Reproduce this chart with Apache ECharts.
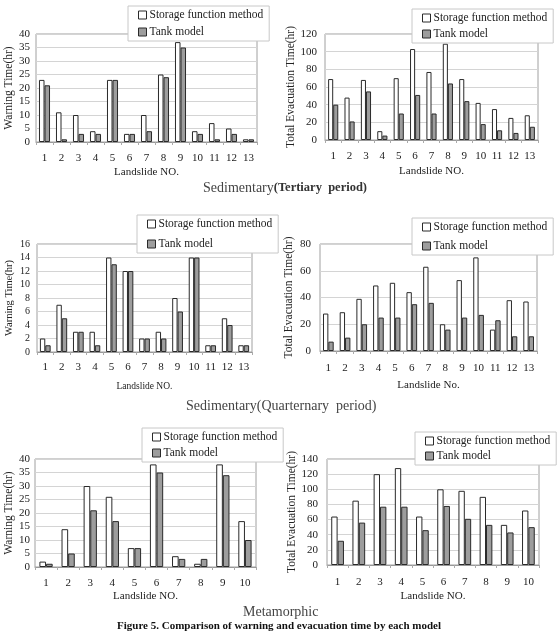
<!DOCTYPE html>
<html>
<head>
<meta charset="utf-8">
<script src="https://cdn.jsdelivr.net/npm/echarts@6/dist/echarts.min.js"></script>
<style>html,body{margin:0;padding:0;background:#fff;}#c{width:558px;height:635px;}</style>
</head>
<body>
<div id="c"></div>
<script>
const cats13 = ['1','2','3','4','5','6','7','8','9','10','11','12','13'];
const cats10 = ['1','2','3','4','5','6','7','8','9','10'];
const seriesNames = ['Storage function method', 'Tank model'];

const tertWarnStorage = [23, 11, 10, 4, 23, 3, 10, 25, 37, 4, 7, 5, 1];
const tertWarnTank    = [21, 1, 3, 3, 23, 3, 4, 24, 35, 3, 1, 3, 1];
const tertEvacStorage = [69, 48, 68, 10, 70, 103, 77, 109, 69, 42, 35, 25, 28];
const tertEvacTank    = [40, 21, 55, 5, 30, 51, 30, 64, 44, 18, 11, 8, 15];
const quatWarnStorage = [2, 7, 3, 3, 14, 12, 2, 3, 8, 14, 1, 5, 1];
const quatWarnTank    = [1, 5, 3, 1, 13, 12, 2, 2, 6, 14, 1, 4, 1];
const quatEvacStorage = [28, 29, 39, 49, 51, 44, 63, 20, 53, 70, 16, 38, 37];
const quatEvacTank    = [7, 10, 20, 25, 25, 35, 36, 16, 25, 27, 23, 11, 11];
const metaWarnStorage = [2, 14, 30, 26, 7, 38, 4, 1.2, 38, 17];
const metaWarnTank    = [1.2, 5, 21, 17, 7, 35, 3, 3, 34, 10];
const metaEvacStorage = [64, 85, 120, 128, 64, 100, 98, 90, 53, 72];
const metaEvacTank    = [32, 56, 77, 77, 46, 78, 61, 53, 43, 50];

const yTitles = ['Warning Time(hr)', 'Total Evacuation Time(hr)'];
const xTitles = ['Landslide NO.', 'Landslide No.'];
const captions = ['Sedimentary', '(Tertiary  period)', '(Quarternary  period)', 'Metamorphic',
  'Figure 5. Comparison of warning and evacuation time by each model'];

const SERIF = '"Liberation Serif","DejaVu Serif",serif';

const panels = [
  {cats: cats13, s: tertWarnStorage, t: tertWarnTank, max: 40, interval: 5, yt: yTitles[0], xt: xTitles[0],
   grid: {left: 36, top: 34, width: 221, height: 108}, yGap: 21, yMargin: 6, xMargin: 11, xGap: 25, catGap: '35%',
   legend: {left: 128, top: 6, gap: 5}, yFont: 11, xtFont: 11},
  {cats: cats13, s: tertEvacStorage, t: tertEvacTank, max: 120, interval: 20, yt: yTitles[1], xt: xTitles[0],
   grid: {left: 325, top: 34, width: 213, height: 106}, yGap: 27, yMargin: 8, xMargin: 11, xGap: 26, catGap: '38%',
   legend: {left: 412, top: 9, gap: 4}, yFont: 11, xtFont: 11},
  {cats: cats13, s: quatWarnStorage, t: quatWarnTank, max: 16, interval: 2, yt: yTitles[0], xt: xTitles[0],
   grid: {left: 37, top: 244, width: 215, height: 108}, yGap: 22, yMargin: 7, xMargin: 10, xGap: 29, catGap: '35%',
   legend: {left: 137, top: 215, gap: 8}, yFont: 10, xtFont: 9.5},
  {cats: cats13, s: quatEvacStorage, t: quatEvacTank, max: 80, interval: 20, yt: yTitles[1], xt: xTitles[1],
   grid: {left: 320, top: 244, width: 217, height: 107}, yGap: 25, yMargin: 9, xMargin: 12, xGap: 29, catGap: '36%',
   legend: {left: 412, top: 218, gap: 7}, yFont: 11, xtFont: 11},
  {cats: cats10, s: metaWarnStorage, t: metaWarnTank, max: 40, interval: 5, yt: yTitles[0], xt: xTitles[0],
   grid: {left: 35, top: 459, width: 221, height: 108}, yGap: 20, yMargin: 5, xMargin: 11, xGap: 24, catGap: '40%',
   legend: {left: 142, top: 428, gap: 4}, yFont: 11, xtFont: 11},
  {cats: cats10, s: metaEvacStorage, t: metaEvacTank, max: 140, interval: 20, yt: yTitles[1], xt: xTitles[0],
   grid: {left: 327, top: 459, width: 212, height: 106}, yGap: 29, yMargin: 9, xMargin: 12, xGap: 26, catGap: '40%',
   legend: {left: 415, top: 432, gap: 3}, yFont: 11, xtFont: 11}
];

const storageStyle = {color: '#ffffff', borderColor: '#2a2a2a', borderWidth: 1};
const tankStyle = {color: '#9d9d9d', borderColor: '#2a2a2a', borderWidth: 1};

const grids = [], xAxes = [], yAxes = [], series = [], legends = [];
panels.forEach((p, i) => {
  grids.push(Object.assign({show: true, borderColor: '#a0a0a0', borderWidth: 1, backgroundColor: '#fff'}, p.grid));
  xAxes.push({
    type: 'category', gridIndex: i, data: p.cats,
    name: p.xt, nameLocation: 'middle', nameGap: p.xGap,
    nameTextStyle: {fontFamily: SERIF, fontSize: p.xtFont, color: '#222'},
    axisLine: {lineStyle: {color: '#999'}},
    axisTick: {show: true, length: 3, lineStyle: {color: '#aaa'}},
    axisLabel: {fontFamily: SERIF, fontSize: 11, color: '#222', margin: p.xMargin}
  });
  yAxes.push({
    type: 'value', gridIndex: i, min: 0, max: p.max, interval: p.interval,
    name: p.yt, nameLocation: 'middle', nameGap: p.yGap, nameRotate: 90,
    nameTextStyle: {fontFamily: SERIF, fontSize: p.yFont + 0.5, color: '#222'},
    axisLine: {show: false}, axisTick: {show: false},
    axisLabel: {fontFamily: SERIF, fontSize: p.yFont, color: '#222', margin: p.yMargin},
    splitLine: {lineStyle: {color: '#d4d4d4', width: 1}}
  });
  series.push({
    name: seriesNames[0], type: 'bar', xAxisIndex: i, yAxisIndex: i, data: p.s,
    itemStyle: storageStyle, barGap: '0%', barCategoryGap: p.catGap, silent: true, animation: false
  });
  series.push({
    name: seriesNames[1], type: 'bar', xAxisIndex: i, yAxisIndex: i, data: p.t,
    itemStyle: tankStyle, barGap: '0%', barCategoryGap: p.catGap, silent: true, animation: false
  });
  legends.push({
    left: p.legend.left, top: p.legend.top, orient: 'vertical',
    backgroundColor: '#fff', borderColor: '#c8c8c8', borderWidth: 1,
    padding: [3, 6, 3, 10], itemGap: p.legend.gap, itemWidth: 8, itemHeight: 8,
    selectedMode: false, icon: 'rect',
    textStyle: {fontFamily: SERIF, fontSize: 11.5, color: '#222', padding: [0, 0, 0, -2]},
    data: [
      {name: seriesNames[0], itemStyle: storageStyle},
      {name: seriesNames[1], itemStyle: tankStyle}
    ]
  });
});

const capRich = {
  a: {fontFamily: SERIF, fontSize: 14, color: '#444', fontWeight: 'normal'},
  b: {fontFamily: SERIF, fontSize: 12.5, color: '#333', fontWeight: 'bold'},
  c: {fontFamily: SERIF, fontSize: 14, color: '#444', fontWeight: 'normal'}
};
const titles = [
  {text: '{a|' + captions[0] + '}{b|' + captions[1] + '}', left: 203, top: 181, padding: 0,
   textStyle: {fontWeight: 'normal', rich: capRich}},
  {text: '{a|' + captions[0] + '}{c|' + captions[2] + '}', left: 186, top: 399, padding: 0,
   textStyle: {fontWeight: 'normal', rich: capRich}},
  {text: '{a|' + captions[3] + '}', left: 243, top: 605, padding: 0,
   textStyle: {fontWeight: 'normal', rich: capRich}},
  {text: captions[4], left: 'center', top: 621, padding: 0,
   textStyle: {fontFamily: SERIF, fontSize: 11, fontWeight: 'bold', color: '#111'}}
];

const chart = echarts.init(document.getElementById('c'), null, {renderer: 'canvas'});
chart.setOption({
  animation: false,
  backgroundColor: '#fff',
  title: titles,
  grid: grids,
  xAxis: xAxes,
  yAxis: yAxes,
  legend: legends,
  series: series
});
</script>
</body>
</html>
